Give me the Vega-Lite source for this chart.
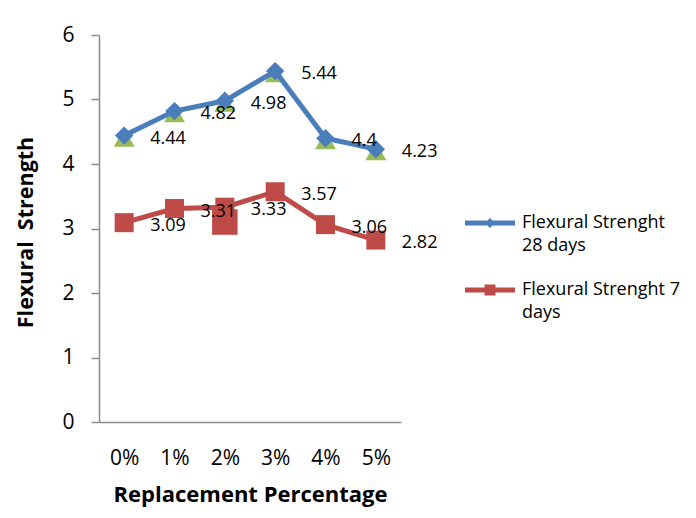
{
  "$schema": "https://vega.github.io/schema/vega-lite/v6.json",
  "width": 302,
  "height": 387,
  "autosize": "none",
  "padding": {"left": 99, "top": 35, "right": 295, "bottom": 96},
  "background": "white",
  "config": {"view": {"stroke": null}, "font": "Open Sans"},
  "datasets": {
    "main": [
      {"pct": "0%", "series": "Flexural Strenght 28 days", "value": 4.44},
      {"pct": "1%", "series": "Flexural Strenght 28 days", "value": 4.82},
      {"pct": "2%", "series": "Flexural Strenght 28 days", "value": 4.98},
      {"pct": "3%", "series": "Flexural Strenght 28 days", "value": 5.44},
      {"pct": "4%", "series": "Flexural Strenght 28 days", "value": 4.4},
      {"pct": "5%", "series": "Flexural Strenght 28 days", "value": 4.23},
      {"pct": "0%", "series": "Flexural Strenght 7 days", "value": 3.09},
      {"pct": "1%", "series": "Flexural Strenght 7 days", "value": 3.31},
      {"pct": "2%", "series": "Flexural Strenght 7 days", "value": 3.33},
      {"pct": "3%", "series": "Flexural Strenght 7 days", "value": 3.57},
      {"pct": "4%", "series": "Flexural Strenght 7 days", "value": 3.06},
      {"pct": "5%", "series": "Flexural Strenght 7 days", "value": 2.82}
    ],
    "tri": [
      {"pct": "0%", "value": 4.41},
      {"pct": "1%", "value": 4.79},
      {"pct": "2%", "value": 4.95},
      {"pct": "3%", "value": 5.41},
      {"pct": "4%", "value": 4.37},
      {"pct": "5%", "value": 4.2}
    ],
    "sq": [
      {"pct": "2%", "value": 3.1}
    ]
  },
  "encoding": {
    "x": {
      "field": "pct",
      "type": "ordinal",
      "sort": ["0%", "1%", "2%", "3%", "4%", "5%"],
      "scale": {"type": "point", "padding": 0.5},
      "axis": {
        "title": "Replacement Percentage",
        "labelAngle": 0,
        "ticks": false,
        "tickSize": 0,
        "labelPadding": 25,
        "labelFontSize": 21,
        "labelColor": "black",
        "domainColor": "#8c8c8c",
        "domainWidth": 1.5,
        "titleFontSize": 22,
        "titleFontWeight": "bold",
        "titleColor": "black",
        "titlePadding": 16
      }
    },
    "y": {
      "field": "value",
      "type": "quantitative",
      "scale": {"domain": [0, 6]},
      "axis": {
        "title": "Flexural\u00a0 Strength",
        "values": [0, 1, 2, 3, 4, 5, 6],
        "grid": false,
        "tickSize": 8,
        "tickColor": "#8c8c8c",
        "tickWidth": 1.5,
        "domainColor": "#8c8c8c",
        "domainWidth": 1.5,
        "labelPadding": 17,
        "labelFontSize": 21,
        "labelColor": "black",
        "titleFontSize": 21.5,
        "titleFontWeight": "bold",
        "titleColor": "black",
        "titleX": -73,
        "titleY": 197,
        "titleAlign": "center",
        "titleBaseline": "middle",
        "titleAngle": -90
      }
    }
  },
  "layer": [
    {
      "data": {"name": "tri"},
      "mark": {"type": "point", "shape": "triangle-up", "filled": true, "opacity": 1, "size": 441, "color": "#9BBB59"}
    },
    {
      "data": {"name": "main"},
      "mark": {"type": "line", "strokeWidth": 5},
      "encoding": {
        "color": {
          "field": "series",
          "type": "nominal",
          "scale": {"domain": ["Flexural Strenght 28 days", "Flexural Strenght 7 days"], "range": ["#4A7EBB", "#BE4B48"]},
          "legend": {
            "title": null,
            "orient": "none",
            "legendX": 366,
            "legendY": 163,
            "padding": 0,
            "symbolSize": 2500,
            "symbolStrokeWidth": 0,
            "labelFont": "Open Sans",
            "labelFontSize": 18,
            "labelColor": "black",
            "labelOffset": 7,
            "labelBaseline": "top",
            "labelLimit": 300,
            "rowPadding": 10,
            "labelExpr": "datum.label == 'Flexural Strenght 28 days' ? ['Flexural Strenght', '28 days'] : ['Flexural Strenght 7', 'days']",
            "encode": {
              "symbols": {
                "update": {
                  "shape": {"signal": "datum.value == 'Flexural Strenght 28 days' ? 'M-1,-0.1H1V0.1H-1Z M0,-0.2L0.2,0L0,0.2L-0.2,0Z' : 'M-1,-0.1H1V0.1H-1Z M-0.22,-0.22H0.22V0.22H-0.22Z'"},
                  "fill": {"signal": "datum.value == 'Flexural Strenght 28 days' ? '#4A7EBB' : '#BE4B48'"},
                  "strokeWidth": {"value": 0},
                  "opacity": {"value": 1}
                }
              },
              "labels": {
                "update": {"dy": {"value": -9}, "lineHeight": {"value": 23}}
              }
            }
          }
        }
      }
    },
    {
      "data": {"name": "main"},
      "transform": [{"filter": "datum.series == 'Flexural Strenght 28 days'"}],
      "mark": {"type": "point", "shape": "diamond", "filled": true, "opacity": 1, "size": 340, "color": "#4A7EBB"}
    },
    {
      "data": {"name": "main"},
      "transform": [{"filter": "datum.series == 'Flexural Strenght 7 days'"}],
      "mark": {"type": "point", "shape": "square", "filled": true, "opacity": 1, "size": 361, "color": "#BE4B48"}
    },
    {
      "data": {"name": "sq"},
      "mark": {"type": "point", "shape": "square", "filled": true, "opacity": 1, "size": 650, "color": "#BE4B48"}
    },
    {
      "data": {"name": "main"},
      "mark": {"type": "text", "align": "left", "baseline": "middle", "dx": 26, "dy": 3, "fontSize": 18, "font": "Open Sans", "color": "black"},
      "encoding": {
        "text": {"field": "value", "type": "quantitative"}
      }
    }
  ]
}
